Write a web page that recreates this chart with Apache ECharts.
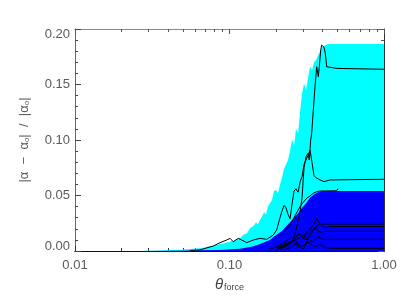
<!DOCTYPE html>
<html><head><meta charset="utf-8">
<script src="https://cdn.jsdelivr.net/npm/echarts@6/dist/echarts.min.js"></script>
<style>html,body{margin:0;padding:0;background:#fff}#c{width:415px;height:299px}</style>
</head><body><div id="c"></div>
<script>
// ---- tick labels ----
const xTickLabels = ['0.01', '0.10', '1.00'];
const yTickLabels = ['0.00', '0.05', '0.10', '0.15', '0.20'];
const xMinorTicks = [0.02,0.03,0.04,0.05,0.06,0.07,0.08,0.09,0.2,0.3,0.4,0.5,0.6,0.7,0.8,0.9];

// ---- cyan band (upper envelope) ----
const cyanTheta = [0.0263,0.0306,0.0355,0.0412,0.0478,0.0555,0.0644,0.0694,0.0748,0.0806,0.0868,0.0935,0.1007,0.1085,0.1169,0.1223,0.1260,0.1298,0.1357,0.1398,0.1441,0.1484,0.1529,0.1575,0.1623,0.1672,0.1723,0.1775,0.1829,0.1884,0.1941,0.2000,0.2060,0.2123,0.2187,0.2254,0.2322,0.2392,0.2465,0.2539,0.2616,0.2695,0.2777,0.2861,0.2948,0.3037,0.3128,0.3223,0.3319,0.3420,0.3523,0.3630,0.3739,0.3853,0.3969,0.4090,0.4213,0.4340,1.0];
const cyanValues = [0,0.0003,0.0005,0.001,0.0012,0.0018,0.0025,0.0032,0.0045,0.005,0.0063,0.0072,0.0085,0.0095,0.0115,0.0144,0.015,0.016,0.0205,0.019,0.023,0.026,0.024,0.028,0.031,0.035,0.033,0.040,0.043,0.046,0.054,0.055,0.052,0.060,0.066,0.074,0.073,0.082,0.090,0.101,0.095,0.110,0.106,0.125,0.142,0.151,0.145,0.156,0.166,0.163,0.170,0.172,0.176,0.180,0.183,0.185,0.186,0.1865,0.1865];

// ---- blue band ----
const blueTheta = [0.0263,0.0478,0.0644,0.0868,0.1169,0.1357,0.1484,0.1623,0.1723,0.1829,0.1941,0.2060,0.2187,0.2322,0.2465,0.2616,0.2777,0.2948,0.3128,0.3319,0.3523,0.3739,0.3969,1.0];
const blueValues = [0,0.0003,0.0006,0.001,0.002,0.0035,0.005,0.007,0.0085,0.010,0.013,0.0155,0.018,0.022,0.026,0.030,0.034,0.039,0.043,0.048,0.051,0.053,0.054,0.054];

// ---- individual runs (black lines) ----
const run1Theta = [0.2000,0.2465,0.2616,0.2695,0.2861,0.2948,0.3037,0.3128,0.3223,0.3285,0.3354,0.3404,0.3487,0.3576,0.3668,0.3757,0.3813,0.3893,0.3952,0.4090,0.4170,0.4257,0.4360,0.4943,0.5062,1.0];
const run1Values = [0.001,0.006,0.012,0.019,0.035,0.048,0.075,0.085,0.088,0.082,0.100,0.106,0.127,0.148,0.166,0.157,0.166,0.181,0.1855,0.1835,0.178,0.166,0.1645,0.1645,0.1635,0.1637];

const run2Theta = [0.0555,0.0644,0.0786,0.0868,0.0959,0.1007,0.1058,0.1140,0.1200,0.1292,0.1426,0.1575,0.1741,0.1921,0.2021,0.2123,0.2187,0.2254,0.2322,0.2392,0.2465,0.2539,0.2616,0.2695,0.2777,0.2861,0.2948,0.3037,0.3128,0.3223,0.3319,0.3420,0.3523,0.3630,0.3853,0.4090,0.4472,1.0];
const run2Values = [0.0005,0.001,0.0045,0.0075,0.0099,0.0114,0.0084,0.0114,0.0099,0.0075,0.0099,0.0114,0.0105,0.0144,0.019,0.030,0.036,0.041,0.039,0.033,0.029,0.042,0.054,0.056,0.053,0.062,0.067,0.078,0.077,0.086,0.091,0.080,0.068,0.066,0.064,0.0625,0.064,0.0646];

const run3Theta = [0.1829,0.2123,0.2465,0.2861,0.3082,0.3319,0.3487,0.3668,0.3757,0.3853,1.0];
const run3Values = [0.002,0.004,0.008,0.012,0.015,0.019,0.0234,0.0295,0.027,0.0243,0.0243];

const run4Theta = [0.1970,0.2287,0.2539,0.2777,0.3037,0.3319,0.3576,0.3853,0.4090,0.4472,1.0];
const run4Values = [0.003,0.008,0.013,0.006,0.012,0.017,0.020,0.025,0.021,0.022,0.022];

const run5Theta = [0.2123,0.2392,0.2654,0.2861,0.3082,0.3319,0.3576,0.3853,0.4213,1.0];
const run5Values = [0.001,0.006,0.012,0.016,0.010,0.014,0.021,0.017,0.0177,0.0177];

const run6Theta = [0.2060,0.2287,0.2539,0.2777,0.3037,0.3223,0.3420,0.3739,0.4028,1.0];
const run6Values = [0.002,0.005,0.009,0.004,0.002,0.011,0.008,0.013,0.0105,0.0105];

const run7Theta = [0.2254,0.2465,0.2695,0.2948,0.3223,0.3523,0.3853,0.4213,0.4472,1.0];
const run7Values = [0.001,0.003,0.007,0.004,0.008,0.004,0.0055,0.003,0.0024,0.0024];

const run8Theta = [0.2123,0.2465,0.2861,0.3004,0.3160,0.3319,0.3487,0.3668,0.3853,0.4943,0.5017];
const run8Values = [0.013,0.0234,0.040,0.044,0.0475,0.0495,0.052,0.0534,0.054,0.0543,0.056];

const runs = [
  [run1Theta, run1Values], [run2Theta, run2Values], [run3Theta, run3Values],
  [run4Theta, run4Values], [run5Theta, run5Values], [run6Theta, run6Values],
  [run7Theta, run7Values], [run8Theta, run8Values]
];

const zip = (a, b) => a.map((t, i) => [t, b[i]]);

const chart = echarts.init(document.getElementById('c'), null, {renderer: 'canvas'});
const labelColor = '#5a5a5a';
const font = 'Liberation Sans, Arial, Helvetica, sans-serif';

function xAx(pos, lineColor, opts) {
  return Object.assign({
    type: 'log', logBase: 10, min: 0.01, max: 1, position: pos,
    axisLine: {show: true, onZero: false, lineStyle: {color: lineColor, width: 1}}, splitLine: {show: false},
    axisLabel: {show: false}, axisTick: {show: false}
  }, opts);
}
function yAx(pos, lineColor, opts) {
  return Object.assign({
    type: 'value', min: 0, max: 0.2, interval: 0.05, position: pos,
    axisLine: {show: true, onZero: false, lineStyle: {color: lineColor, width: 1}}, splitLine: {show: false},
    axisLabel: {show: false}, axisTick: {show: false}
  }, opts);
}

const xAxes = [
  xAx('bottom', '#111', {
    axisTick: {show: true, inside: true, length: 5, lineStyle: {color: '#333', width: 1}},
    axisLabel: {show: true, margin: 8, color: labelColor, fontSize: 13, fontFamily: font,
      formatter: v => xTickLabels[Math.round(Math.log10(v) + 2)]},
    name: '{i|θ}{s|force}', nameLocation: 'middle', nameGap: 23,
    nameTextStyle: {rich: {
      i: {fontSize: 15, fontStyle: 'italic', color: '#444', fontFamily: font, lineHeight: 18, verticalAlign: 'bottom'},
      s: {fontSize: 9, color: '#444', fontFamily: font, lineHeight: 9, verticalAlign: 'bottom', padding: [0,0,0,1]}
    }}
  }),
  xAx('bottom', '#111', {axisTick: {show: true, inside: true, length: 3, customValues: xMinorTicks, lineStyle: {color: '#333'}}}),
  xAx('top', '#888', {axisTick: {show: true, inside: true, length: 5, lineStyle: {color: '#555'}}}),
  xAx('top', '#888', {axisTick: {show: true, inside: true, length: 3, customValues: xMinorTicks, lineStyle: {color: '#555'}}})
];

const yAxes = [
  yAx('left', '#666', {
    axisTick: {show: true, inside: true, length: 6, lineStyle: {color: '#444'}},
    minorTick: {show: true, splitNumber: 5, length: 3, lineStyle: {color: '#444'}},
    axisLabel: {show: true, margin: 5, color: labelColor, fontSize: 13, fontFamily: font, lineHeight: 10,
      verticalAlignMinLabel: 'bottom', verticalAlignMaxLabel: 'top',
      formatter: v => yTickLabels[Math.round(v / 0.05)]},
    name: '{t||α  −  α}{s|o}{t||  /  |α}{s|o}{t||}', nameLocation: 'middle', nameGap: 44, nameRotate: 90,
    nameTextStyle: {rich: {
      t: {fontSize: 13, color: labelColor, fontFamily: font, lineHeight: 18, verticalAlign: 'bottom'},
      s: {fontSize: 8, color: labelColor, fontFamily: font, lineHeight: 8, verticalAlign: 'bottom'}
    }}
  }),
  yAx('right', '#333', {
    axisTick: {show: true, inside: true, length: 6, lineStyle: {color: '#555'}},
    minorTick: {show: true, splitNumber: 5, length: 3, lineStyle: {color: '#555'}}
  })
];

const series = [
  {type: 'line', data: zip(cyanTheta, cyanValues), showSymbol: false, symbol: 'none', silent: true,
   lineStyle: {width: 0}, areaStyle: {color: '#00ffff', opacity: 1}, z: 2},
  {type: 'line', data: zip(blueTheta, blueValues), showSymbol: false, symbol: 'none', silent: true,
   lineStyle: {width: 0}, areaStyle: {color: '#0000ff', opacity: 1}, z: 3}
];
runs.forEach(r => series.push({
  type: 'line', data: zip(r[0], r[1]), showSymbol: false, symbol: 'none', silent: true,
  lineStyle: {color: '#000', width: 1}, z: 4
}));

chart.setOption({
  animation: false,
  backgroundColor: '#fff',
  grid: {left: 75, right: 31, top: 29, bottom: 48, containLabel: false},
  xAxis: xAxes,
  yAxis: yAxes,
  series: series
});
</script>
</body></html>
